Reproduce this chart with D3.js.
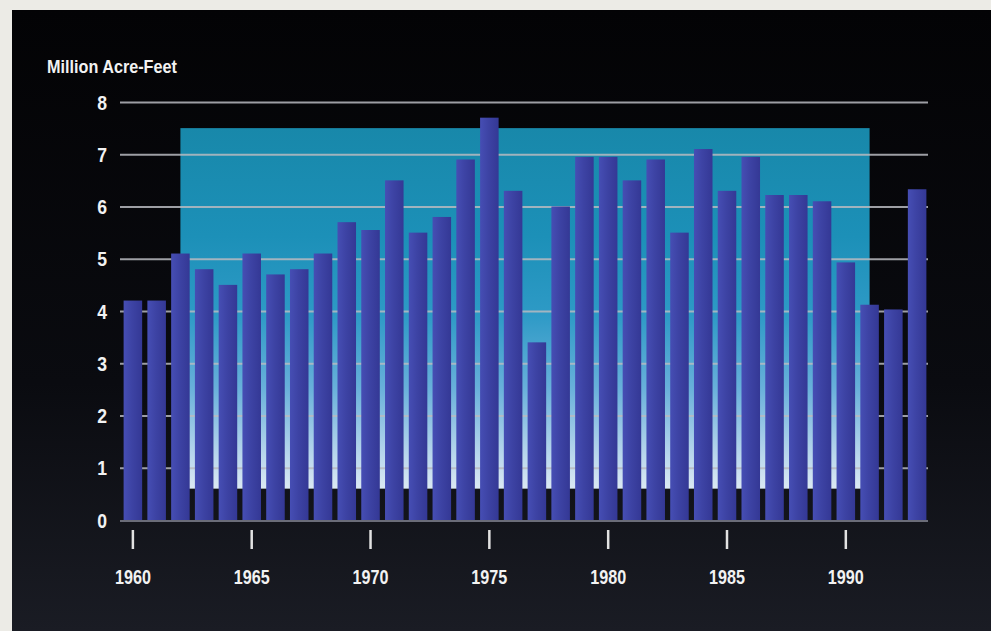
<!DOCTYPE html>
<html>
<head>
<meta charset="utf-8">
<script src="https://cdn.jsdelivr.net/npm/d3@7"></script>
<style>
  html, body { margin: 0; padding: 0; background: #ecebe6; }
  svg { display: block; }
</style>
</head>
<body>
<svg id="chart" width="991" height="631"></svg>
<script>
// ---- data ----
const years = [1960,1961,1962,1963,1964,1965,1966,1967,1968,1969,1970,1971,1972,1973,1974,1975,1976,1977,1978,1979,1980,1981,1982,1983,1984,1985,1986,1987,1988,1989,1990,1991,1992,1993];
const values = [4.2,4.2,5.1,4.8,4.5,5.1,4.7,4.8,5.1,5.7,5.55,6.5,5.5,5.8,6.9,7.7,6.3,3.4,6.0,6.95,6.95,6.5,6.9,5.5,7.1,6.3,6.95,6.22,6.22,6.1,4.93,4.12,4.03,6.33];
const yTicks = [0,1,2,3,4,5,6,7,8];
const xTickYears = [1960,1965,1970,1975,1980,1985,1990];
const yTitle = "Million Acre-Feet";
// shaded range: years 1962–1991, 0.6 to 7.5 million acre-feet
const rangeYears = [1962, 1991];
const rangeValues = [0.6, 7.5];

const data = years.map((y, i) => ({ year: y, value: values[i] }));

const svg = d3.select("#chart");
const W = 991, H = 631;
const fontFam = "'Liberation Sans', Arial, sans-serif";

// condense text horizontally (narrow bold look)
function condense(sel, k) {
  sel.each(function () {
    const len = this.getComputedTextLength();
    d3.select(this).attr("textLength", len * k).attr("lengthAdjust", "spacingAndGlyphs");
  });
}

const defs = svg.append("defs");
const bg = defs.append("linearGradient").attr("id", "bg").attr("x1", 0).attr("y1", 0).attr("x2", 0).attr("y2", 1);
bg.append("stop").attr("offset", "0%").attr("stop-color", "#030305");
bg.append("stop").attr("offset", "60%").attr("stop-color", "#0a0b10");
bg.append("stop").attr("offset", "100%").attr("stop-color", "#1a1c24");

const teal = defs.append("linearGradient").attr("id", "teal").attr("x1", 0).attr("y1", 0).attr("x2", 0).attr("y2", 1);
teal.append("stop").attr("offset", "0%").attr("stop-color", "#1888aa");
teal.append("stop").attr("offset", "30%").attr("stop-color", "#1c90b8");
teal.append("stop").attr("offset", "52%").attr("stop-color", "#2e9ac6");
teal.append("stop").attr("offset", "72%").attr("stop-color", "#68b0da");
teal.append("stop").attr("offset", "90%").attr("stop-color", "#b6d5ec");
teal.append("stop").attr("offset", "100%").attr("stop-color", "#dbe9f3");

const barG = defs.append("linearGradient").attr("id", "bar").attr("x1", 0).attr("y1", 0).attr("x2", 1).attr("y2", 0);
barG.append("stop").attr("offset", "0%").attr("stop-color", "#464eb4");
barG.append("stop").attr("offset", "45%").attr("stop-color", "#3d43a4");
barG.append("stop").attr("offset", "100%").attr("stop-color", "#343895");

// background + scan border
svg.append("rect").attr("x", 0).attr("y", 0).attr("width", W).attr("height", H).attr("fill", "#ecebe6");
svg.append("rect").attr("x", 12).attr("y", 10).attr("width", W - 12).attr("height", H - 10).attr("fill", "url(#bg)");

// scales
const x = d3.scaleBand().domain(years).range([121, 929]).paddingInner(0.22).paddingOuter(0.11);
const y = d3.scaleLinear().domain([0, 8]).range([520, 102]);
const bw = x.bandwidth();

// shaded range
const rx0 = x(rangeYears[0]) + bw / 2, rx1 = x(rangeYears[1]) + bw / 2;
svg.append("rect")
  .attr("x", rx0).attr("y", y(rangeValues[1]))
  .attr("width", rx1 - rx0).attr("height", y(rangeValues[0]) - y(rangeValues[1]))
  .attr("fill", "url(#teal)");

// gridlines
const grid = svg.append("g")
  .attr("transform", "translate(120,0)")
  .call(d3.axisLeft(y).tickValues(yTicks.filter(d => d > 0)).tickSize(-(928 - 120)).tickFormat(""));
grid.select(".domain").remove();
grid.selectAll(".tick line").attr("stroke", "#b8bac0").attr("stroke-width", 2).attr("stroke-opacity", 0.85);

// bars
svg.append("g").selectAll("rect").data(data).join("rect")
  .attr("x", d => x(d.year))
  .attr("y", d => y(d.value))
  .attr("width", bw)
  .attr("height", d => y(0) - y(d.value))
  .attr("fill", "url(#bar)");

// baseline
svg.append("line").attr("x1", 120).attr("x2", 928).attr("y1", y(0) + 1).attr("y2", y(0) + 1)
  .attr("stroke", "#6a6c78").attr("stroke-width", 2);

// y axis labels
const yAx = svg.append("g").attr("transform", "translate(107,0)")
  .call(d3.axisLeft(y).tickValues(yTicks).tickSize(0).tickPadding(0).tickFormat(d3.format("d")));
yAx.select(".domain").remove();
yAx.selectAll("text").attr("fill", "#f2f2f2").attr("font-family", fontFam).attr("font-weight", "bold")
  .attr("font-size", 20).attr("dy", "0.36em").call(condense, 0.88);

// x axis ticks & labels
const xAx = svg.append("g").attr("transform", "translate(0,530)")
  .call(d3.axisBottom(x).tickValues(xTickYears).tickSize(19).tickPadding(20).tickFormat(d3.format("d")));
xAx.select(".domain").remove();
xAx.selectAll(".tick line").attr("stroke", "#e2e2e2").attr("stroke-width", 2.5);
xAx.selectAll("text").attr("fill", "#f2f2f2").attr("font-family", fontFam).attr("font-weight", "bold")
  .attr("font-size", 21).call(condense, 0.77);

// title
svg.append("text").attr("x", 47).attr("y", 73).text(yTitle)
  .attr("fill", "#f2f2f2").attr("font-family", fontFam).attr("font-weight", "bold").attr("font-size", 18)
  .call(condense, 0.9);
</script>
</body>
</html>
